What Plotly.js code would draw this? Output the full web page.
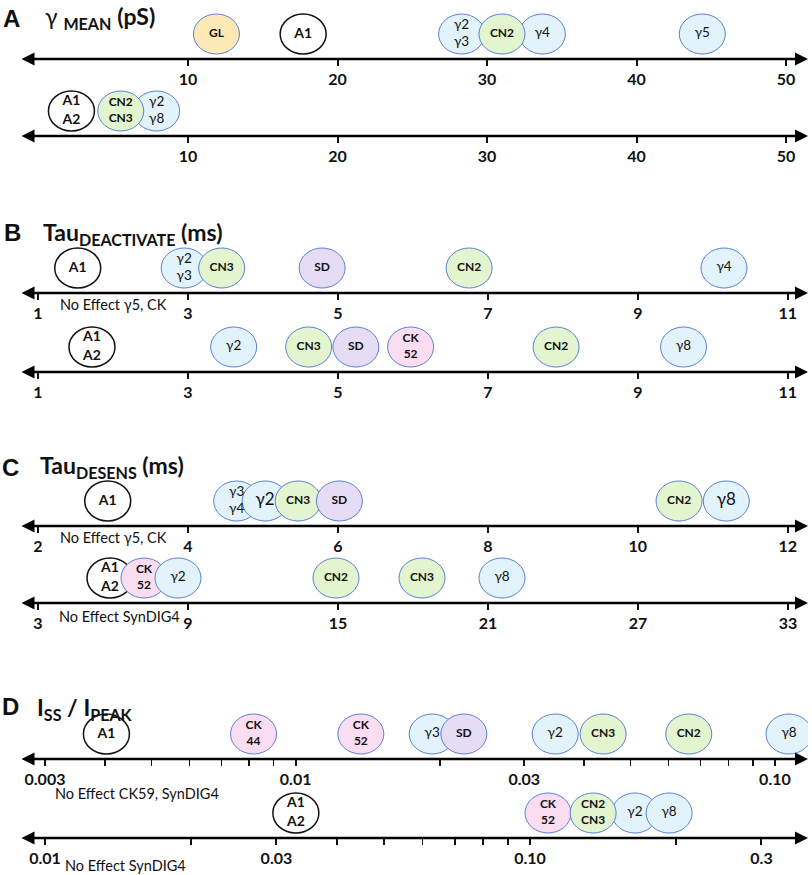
<!DOCTYPE html>
<html>
<head>
<meta charset="utf-8">
<script src="https://cdn.plot.ly/plotly-3.0.1.min.js"></script>
<style>html,body{margin:0;padding:0;background:#fff;}#chart{width:812px;height:875px;}</style>
</head>
<body>
<div id="chart"></div>
<script>
// ---------------- DATA ----------------
// Panel A: gamma mean (pS)
const aTopLabels = ['GL', 'A1', 'γ2<br>γ3', 'γ4', 'CN2', 'γ5'];
const aTopValues = [11.9, 17.7, 28.3, 33.7, 31.0, 44.4];
const aBotLabels = ['A1<br>A2', 'γ2<br>γ8', 'CN2<br>CN3'];
const aBotValues = [2.2, 7.9, 5.5];
const aTickVals = [10, 20, 30, 40, 50];
const aTickText = ['10', '20', '30', '40', '50'];

// Panel B: Tau deactivate (ms)
const bTopLabels = ['A1', 'γ2<br>γ3', 'CN3', 'SD', 'CN2', 'γ4'];
const bTopValues = [1.53, 2.95, 3.45, 4.79, 6.75, 10.15];
const bBotLabels = ['A1<br>A2', 'γ2', 'CN3', 'SD', 'CK<br>52', 'CN2', 'γ8'];
const bBotValues = [1.72, 3.61, 4.61, 5.24, 5.97, 7.91, 9.61];
const bTickVals = [1, 3, 5, 7, 9, 11];
const bTickText = ['1', '3', '5', '7', '9', '11'];

// Panel C: Tau desens (ms)
const cTopLabels = ['A1', 'γ3<br>γ4', 'γ2', 'CN3', 'SD', 'CN2', 'γ8'];
const cTopValues = [2.93, 4.65, 5.03, 5.47, 6.02, 10.55, 11.18];
const cTopTickVals = [2, 4, 6, 8, 10, 12];
const cTopTickText = ['2', '4', '6', '8', '10', '12'];
const cBotLabels = ['A1<br>A2', 'CK<br>52', 'γ2', 'CN2', 'CN3', 'γ8'];
const cBotValues = [5.88, 7.24, 8.6, 14.92, 18.36, 21.56];
const cBotTickVals = [3, 9, 15, 21, 27, 33];
const cBotTickText = ['3', '9', '15', '21', '27', '33'];

// Panel D: Iss / Ipeak (log scale)
const dTopLabels = ['A1', 'CK<br>44', 'CK<br>52', 'γ3', 'SD', 'γ2', 'CN3', 'CN2', 'γ8'];
const dTopValues = [0.00403, 0.00817, 0.01368, 0.01927, 0.02244, 0.0348, 0.0438, 0.0661, 0.107];
const dTopTickVals = [0.003, 0.01, 0.03, 0.1];
const dTopTickText = ['0.003', '0.01', '0.03', '0.10'];
const dTopMinorVals = [0.004, 0.005, 0.006, 0.007, 0.008, 0.009, 0.02, 0.04, 0.05, 0.06, 0.07, 0.08, 0.09];
const dBotLabels = ['A1<br>A2', 'CK<br>52', 'γ2', 'CN2<br>CN3', 'γ8'];
const dBotValues = [0.0329, 0.1089, 0.1645, 0.1349, 0.1935];
const dBotTickVals = [0.01, 0.03, 0.1, 0.3];
const dBotTickText = ['0.01', '0.03', '0.10', '0.3'];
const dBotMinorVals = [0.02, 0.04, 0.05, 0.06, 0.07, 0.08, 0.09, 0.2];

// ---------------- LAYOUT CONFIG ----------------
const W = 812, H = 875, XL = 20, XR = 808;
const rows = [
  {labels: aTopLabels, values: aTopValues, tv: aTickVals, tt: aTickText, ypix: 59, range: [-1.24, 51.47], type: 'linear'},
  {labels: aBotLabels, values: aBotValues, tv: aTickVals, tt: aTickText, ypix: 136, range: [-1.24, 51.47], type: 'linear'},
  {labels: bTopLabels, values: bTopValues, tv: bTickVals, tt: bTickText, ypix: 293, range: [0.76, 11.27], type: 'linear'},
  {labels: bBotLabels, values: bBotValues, tv: bTickVals, tt: bTickText, ypix: 372, range: [0.76, 11.27], type: 'linear'},
  {labels: cTopLabels, values: cTopValues, tv: cTopTickVals, tt: cTopTickText, ypix: 526, range: [1.76, 12.27], type: 'linear', bigGamma: true},
  {labels: cBotLabels, values: cBotValues, tv: cBotTickVals, tt: cBotTickText, ypix: 603, range: [2.28, 33.8], type: 'linear'},
  {labels: dTopLabels, values: dTopValues, tv: dTopTickVals, tt: dTopTickText, minor: dTopMinorVals, ypix: 759, range: [-2.575, -0.931], type: 'log'},
  {labels: dBotLabels, values: dBotValues, tv: dBotTickVals, tt: dBotTickText, minor: dBotMinorVals, ypix: 838, range: [-2.0515, -0.427], type: 'log'}
];
const HALF_W = 23; // ellipse half width in px

function styleFor(label) {
  if (label.startsWith('A')) return {fill: '#ffffff', line: '#111111', lw: 1.5, size: 14, bold: true};
  if (label.startsWith('GL')) return {fill: '#FCE9B5', line: '#5A80D6', lw: 1, size: 12, bold: true};
  if (label.startsWith('CN')) return {fill: '#E3F5CF', line: '#5A80D6', lw: 1, size: 12, bold: true};
  if (label.startsWith('SD')) return {fill: '#E7DCF6', line: '#5A80D6', lw: 1, size: 12, bold: true};
  if (label.startsWith('CK')) return {fill: '#FADDF1', line: '#5A80D6', lw: 1, size: 12, bold: true};
  return {fill: '#E2F3FC', line: '#5A80D6', lw: 1, size: 13.5, bold: false};
}

const data = [];
const shapes = [];
const annotations = [];
const layout = {
  width: W, height: H,
  margin: {l: 0, r: 0, t: 0, b: 0},
  paper_bgcolor: '#ffffff', plot_bgcolor: 'rgba(0,0,0,0)',
  showlegend: false,
  font: {family: 'Lato, "Open Sans", sans-serif', color: '#111111'}
};

rows.forEach((r, i) => {
  const n = i + 1;
  const xa = n === 1 ? 'x' : 'x' + n;
  const ya = n === 1 ? 'y' : 'y' + n;
  const xk = n === 1 ? 'xaxis' : 'xaxis' + n;
  const yk = n === 1 ? 'yaxis' : 'yaxis' + n;
  // 50 px tall band sitting on the axis line, y range in pixels
  layout[yk] = {
    domain: [1 - r.ypix / H, 1 - (r.ypix - 50) / H],
    range: [0, 50], visible: false, fixedrange: true, anchor: xa
  };
  layout[xk] = {
    domain: [XL / W, XR / W], anchor: ya, type: r.type, range: r.range,
    showgrid: false, zeroline: false, showline: false,
    ticks: 'outside', ticklen: 6, tickwidth: 2, tickcolor: '#111111',
    tickmode: 'array', tickvals: r.tv, ticktext: r.tt,
    tickfont: {family: 'Lato, sans-serif', size: 16, weight: 'bold', color: '#111111'},
    fixedrange: true
  };
  if (r.minor) {
    layout[xk].minor = {tickmode: 'array', tickvals: r.minor, ticks: 'outside', ticklen: 6, tickwidth: 1.5, tickcolor: '#111111', showgrid: false};
  }
  // data units per pixel along this axis
  const perPx = (r.range[1] - r.range[0]) / (XR - XL);
  // ellipses
  r.labels.forEach((lab, k) => {
    const s = styleFor(lab);
    const v = r.values[k];
    let x0, x1;
    if (r.type === 'log') {
      x0 = v * Math.pow(10, -HALF_W * perPx);
      x1 = v * Math.pow(10, HALF_W * perPx);
    } else {
      x0 = v - HALF_W * perPx;
      x1 = v + HALF_W * perPx;
    }
    shapes.push({
      type: 'circle', layer: 'below', xref: xa, yref: ya,
      x0: x0, x1: x1, y0: 5, y1: 45,
      fillcolor: s.fill, line: {color: s.line, width: s.lw}
    });
  });
  // labels
  data.push({
    type: 'scatter', mode: 'text', xaxis: xa, yaxis: ya,
    x: r.values, y: r.values.map(() => 25),
    text: r.labels.map(l => styleFor(l).bold ? '<b>' + l + '</b>' : l),
    textposition: 'middle center',
    textfont: {family: 'Lato, sans-serif', color: '#111111',
      size: r.labels.map(l => (r.bigGamma && !l.includes('<br>') && l.startsWith('γ')) ? 17 : styleFor(l).size)},
    hoverinfo: 'skip', cliponaxis: false
  });
  // double-headed axis arrow
  annotations.push({
    xref: 'paper', yref: ya, x: XR / W, y: 0, text: '',
    showarrow: true, axref: 'pixel', ayref: 'pixel', ax: -(XR - XL), ay: 0,
    arrowside: 'end+start', arrowhead: 2, startarrowhead: 2,
    arrowsize: 1, startarrowsize: 1, arrowwidth: 2.6, arrowcolor: '#000000',
    standoff: 0, startstandoff: 0
  });
});

function px(x) { return x / W; }
function py(y) { return 1 - y / H; }
function note(text, x, y) {
  annotations.push({xref: 'paper', yref: 'paper', x: px(x), y: py(y), xanchor: 'left', yanchor: 'middle',
    text: text, showarrow: false, font: {family: 'Lato, sans-serif', size: 14.5, color: '#111111'}});
}
function letter(text, x, y) {
  annotations.push({xref: 'paper', yref: 'paper', x: px(x), y: py(y), xanchor: 'left', yanchor: 'middle',
    text: '<b>' + text + '</b>', showarrow: false, font: {family: 'Arial, "Liberation Sans", sans-serif', size: 24, color: '#111111'}});
}
function title(text, x, y) {
  annotations.push({xref: 'paper', yref: 'paper', x: px(x), y: py(y), xanchor: 'left', yanchor: 'middle',
    text: text, showarrow: false, font: {family: 'Lato, sans-serif', size: 23, color: '#111111'}});
}

letter('A', 1, 18); letter('B', 2, 233); letter('C', 0, 468); letter('D', 0, 706);
title('γ <sub><b>MEAN</b></sub> <b>(pS)</b>', 43, 17);
title('<b>Tau<sub>DEACTIVATE</sub> (ms)</b>', 41, 234);
title('<b>Tau<sub>DESENS</sub> (ms)</b>', 38, 466);
title('<b>I<sub>SS</sub> / I<sub>PEAK</sub></b>', 35, 708);

note('No Effect γ5, CK', 58, 304);
note('No Effect γ5, CK', 58, 537);
note('No Effect SynDIG4', 57, 616);
note('No Effect CK59, SynDIG4', 53, 793);
note('No Effect SynDIG4', 63, 865);

layout.shapes = shapes;
layout.annotations = annotations;

Plotly.newPlot('chart', data, layout, {staticPlot: true, displayModeBar: false});
</script>
</body>
</html>
